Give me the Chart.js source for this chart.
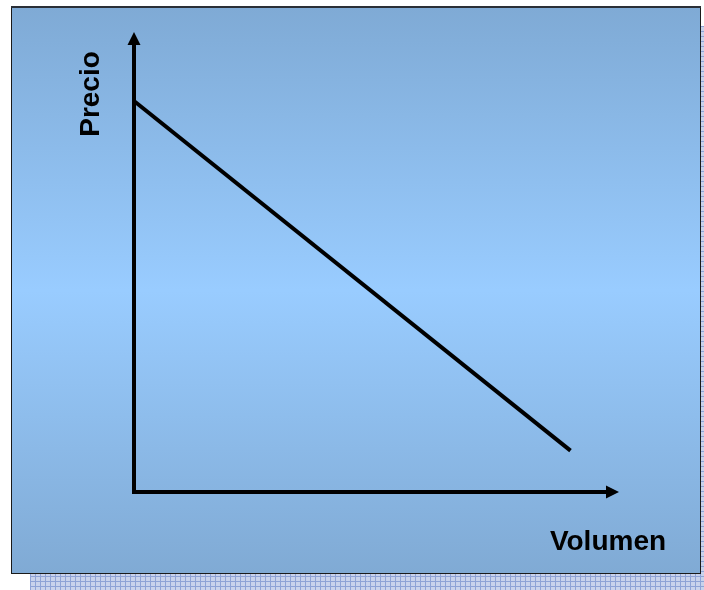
<!DOCTYPE html>
<html>
<head>
<meta charset="utf-8">
<script src="https://cdn.jsdelivr.net/npm/chart.js@4/dist/chart.umd.min.js"></script>
<style>
  html, body { margin: 0; padding: 0; background: #ffffff; }
  #c { display: block; }
</style>
</head>
<body>
<canvas id="c" width="704" height="590"></canvas>
<script>
// Demand curve: price falls as volume rises
const volumen = [0, 90];
const precio = [85, 9];
const axisMax = { x: 100, y: 100 };
const labelX = 'Volumen';
const labelY = 'Precio';

const FONT = 'bold 28px "Liberation Sans", Arial, sans-serif';

// Panel backdrop: hatched drop shadow, gradient fill and border
const panelPlugin = {
  id: 'panel',
  beforeDraw(chart) {
    const ctx = chart.ctx;
    const px = 11, py = 7, pw = 690, ph = 567;
    const off = 19;
    ctx.save();
    // drop shadow with a fine grid pattern
    ctx.fillStyle = '#c9d3ec';
    ctx.fillRect(px + off, py + off, pw, ph);
    ctx.beginPath();
    ctx.rect(px + off, py + off, pw, ph);
    ctx.clip();
    ctx.strokeStyle = '#8ea3d6';
    ctx.lineWidth = 1;
    ctx.beginPath();
    for (let x = px + off + 0.5; x < px + off + pw; x += 5) {
      ctx.moveTo(x, py + off); ctx.lineTo(x, py + off + ph);
    }
    for (let y = py + off + 0.5; y < py + off + ph; y += 5) {
      ctx.moveTo(px + off, y); ctx.lineTo(px + off + pw, y);
    }
    ctx.stroke();
    ctx.restore();

    ctx.save();
    const g = ctx.createLinearGradient(0, py, 0, py + ph);
    g.addColorStop(0, '#7faad5');
    g.addColorStop(0.5, '#99ccff');
    g.addColorStop(1, '#80aad4');
    ctx.fillStyle = g;
    ctx.fillRect(px, py, pw, ph);
    ctx.strokeStyle = '#1a1a1a';
    ctx.lineWidth = 1;
    ctx.strokeRect(px + 0.5, py + 0.5, pw - 1, ph - 1);
    ctx.fillStyle = '#2a2f36';
    ctx.fillRect(px, py - 1, pw, 2);
    ctx.restore();
  }
};

// Axes with arrowheads and their titles
const axesPlugin = {
  id: 'arrowAxes',
  afterDatasetsDraw(chart) {
    const ctx = chart.ctx;
    const xs = chart.scales.x, ys = chart.scales.y;
    const x0 = xs.getPixelForValue(0);
    const y0 = ys.getPixelForValue(0);
    const xEnd = xs.getPixelForValue(axisMax.x);
    const yEnd = ys.getPixelForValue(axisMax.y);
    const head = 13, half = 6.5;
    ctx.save();
    ctx.strokeStyle = '#000';
    ctx.fillStyle = '#000';
    ctx.lineWidth = 4;
    ctx.lineCap = 'butt';
    ctx.beginPath();
    ctx.moveTo(x0, y0 + 2);
    ctx.lineTo(x0, yEnd + head);
    ctx.moveTo(x0 - 2, y0);
    ctx.lineTo(xEnd - head, y0);
    ctx.stroke();
    // arrowheads
    ctx.beginPath();
    ctx.moveTo(x0, yEnd);
    ctx.lineTo(x0 - half, yEnd + head);
    ctx.lineTo(x0 + half, yEnd + head);
    ctx.closePath();
    ctx.fill();
    ctx.beginPath();
    ctx.moveTo(xEnd, y0);
    ctx.lineTo(xEnd - head, y0 - half);
    ctx.lineTo(xEnd - head, y0 + half);
    ctx.closePath();
    ctx.fill();

    // titles
    ctx.font = FONT;
    ctx.textAlign = 'center';
    ctx.textBaseline = 'alphabetic';
    ctx.fillText(labelX, 608, 550);
    ctx.save();
    ctx.translate(99, 94);
    ctx.rotate(-Math.PI / 2);
    ctx.fillText(labelY, 0, 0);
    ctx.restore();
    ctx.restore();
  }
};

new Chart(document.getElementById('c'), {
  type: 'scatter',
  data: {
    datasets: [{
      data: volumen.map((v, i) => ({ x: v, y: precio[i] })),
      showLine: true,
      borderColor: '#000000',
      borderWidth: 4,
      borderCapStyle: 'butt',
      pointRadius: 0,
      pointHoverRadius: 0,
      fill: false
    }]
  },
  options: {
    responsive: false,
    animation: false,
    layout: { padding: { left: 134, right: 85, top: 32, bottom: 98 } },
    plugins: { legend: { display: false }, tooltip: { enabled: false } },
    scales: {
      x: { type: 'linear', min: 0, max: axisMax.x, display: false },
      y: { type: 'linear', min: 0, max: axisMax.y, display: false }
    }
  },
  plugins: [panelPlugin, axesPlugin]
});
</script>
</body>
</html>
